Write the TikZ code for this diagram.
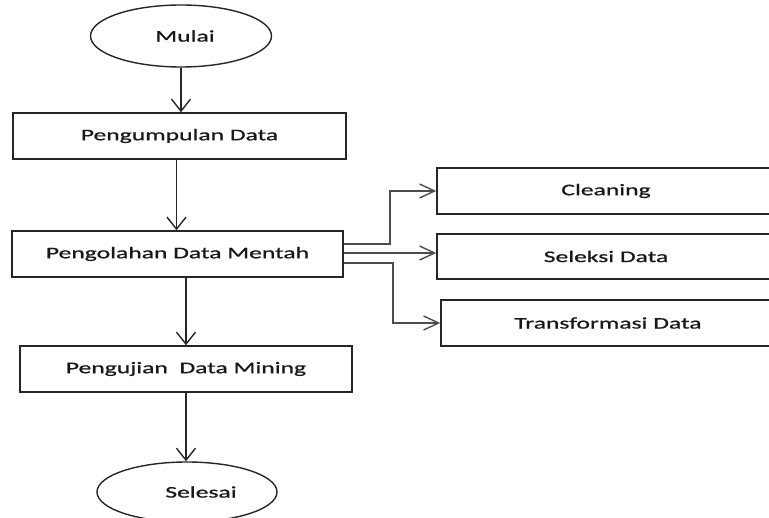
\documentclass[tikz,border=0pt]{standalone}
\usepackage{fontspec}
\setmainfont{Carlito}[FakeStretch=1.58,FakeBold=0.9]
\usetikzlibrary{shapes.geometric,arrows.meta}
\tikzset{
  box/.style={draw=black!85, line width=1.5pt, rectangle, inner sep=0pt, text=black!90, font=\fontsize{16.2}{18}\selectfont},
  ell/.style={draw=black!85, line width=1.4pt, ellipse, inner sep=0pt, text=black!90, font=\fontsize{16.2}{18}\selectfont},
  varrow/.style={draw=black!85, line width=1.6pt, -{Straight Barb[length=12pt,width=19pt,line width=1.4pt]}},
  harrow/.style={draw=black!70, line width=1.8pt, -{Straight Barb[length=15pt,width=14pt,line width=1.4pt]}}
}
\begin{document}
\begin{tikzpicture}[x=1pt,y=-1pt]
\clip (0,0) rectangle (769,518);
\fill[white] (0,0) rectangle (769,518);
\node[ell, minimum width=181pt, minimum height=62pt] (mulai) at (181,36) {\hspace{8pt}Mulai};
\node[box, minimum width=333pt, minimum height=46pt] (peng) at (179.5,136) {Pengumpulan Data};
\node[box, minimum width=331pt, minimum height=46pt] (olah) at (177.5,254) {Pengolahan Data Mentah\hspace{6pt}};
\node[box, minimum width=338pt, minimum height=46pt] (clean) at (606,191) {Cleaning};
\node[box, minimum width=338pt, minimum height=45pt] (sel) at (606,256.5) {Seleksi Data};
\node[box, minimum width=334pt, minimum height=46pt] (trans) at (608,323) {Transformasi Data};
\node[box, minimum width=332pt, minimum height=46pt] (uji) at (186,369) {Pengujian\ \ Data Mining\hspace{30pt}};
\node[ell, minimum width=180pt, minimum height=60pt] (selesai) at (187,492) {\hspace{28pt}Selesai};
\draw[varrow] (mulai.south) -- (mulai.south |- peng.north);
\draw[varrow] ([xshift=-3pt]peng.south) -- ([xshift=-3pt]peng.south |- olah.north);
\draw[varrow] (uji.north |- olah.south) -- (uji.north);
\draw[varrow] (uji.south) -- (uji.south |- selesai.north);
\draw[harrow] ([yshift=10pt]olah.east) -- ++(46,0) |- (clean.west);
\draw[harrow] ([yshift=1pt]olah.east) -- ([yshift=1pt]olah.east -| sel.west);
\draw[harrow] ([yshift=-9pt]olah.east) -- ++(49,0) |- (trans.west);
\end{tikzpicture}
\end{document}
